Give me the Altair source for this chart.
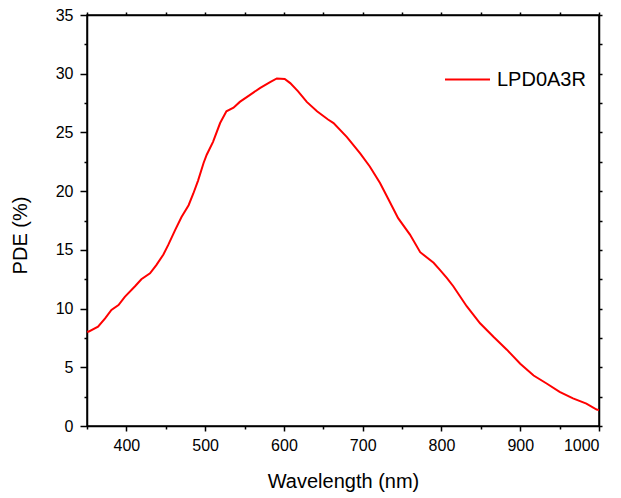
import altair as alt
import pandas as pd

wavelength = [350, 352, 364, 373, 381, 390, 398, 411, 419, 430, 438, 447, 453, 462, 470,
              479, 485, 491, 498, 502, 510, 519, 527, 536, 544, 557, 570, 583, 591, 601,
              608, 618, 629, 642, 656, 663, 680, 697, 709, 722, 732, 745, 760, 773, 790,
              798, 807, 815, 832, 849, 866, 883, 900, 917, 934, 950, 967, 984, 997, 1000]
pde = [8.05, 8.03, 8.46, 9.17, 9.88, 10.3, 11.0, 11.9, 12.5, 13.0, 13.7, 14.6, 15.4, 16.7, 17.8,
       18.8, 19.8, 20.9, 22.4, 23.1, 24.2, 25.8, 26.8, 27.1, 27.6, 28.2, 28.8, 29.3, 29.6, 29.55,
       29.2, 28.5, 27.6, 26.8, 26.1, 25.8, 24.6, 23.2, 22.1, 20.7, 19.4, 17.7, 16.3, 14.8, 13.9,
       13.3, 12.6, 11.9, 10.2, 8.75, 7.6, 6.5, 5.3, 4.3, 3.6, 2.9, 2.35, 1.9, 1.4, 1.35]
series = "LPD0A3R"
x_ticks = [350, 400, 450, 500, 550, 600, 650, 700, 750, 800, 850, 900, 950, 1000]
y_ticks = [0, 2.5, 5, 7.5, 10, 12.5, 15, 17.5, 20, 22.5, 25, 27.5, 30, 32.5, 35]

df = pd.DataFrame({"wl": wavelength, "pde": pde, "series": [series] * len(wavelength)})

FONT = "Liberation Sans"
xscale = alt.Scale(domain=[350, 1000], nice=False, zero=False)
yscale = alt.Scale(domain=[0, 35], nice=False)

x_major = {"condition": {"test": "datum.value % 100 === 0", "value": 5}, "value": 3}
y_major = {"condition": {"test": "datum.value % 5 === 0", "value": 7}, "value": 3}

main = alt.Chart(df).mark_line(strokeWidth=2).encode(
    x=alt.X("wl:Q", scale=xscale,
            axis=alt.Axis(values=x_ticks, title="Wavelength (nm)", format="d",
                          labelExpr="datum.value % 100 === 0 && datum.value > 350 ? datum.label : ''",
                          tickSize=x_major, labelPadding=6, labelFontSize=16,
                          titleFontSize=20, titleFontWeight="normal", titleY=61,
                          titleBaseline="alphabetic")),
    y=alt.Y("pde:Q", scale=yscale,
            axis=alt.Axis(values=y_ticks, title="PDE (%)",
                          labelExpr="datum.value % 5 === 0 ? datum.label : ''",
                          tickSize=y_major, labelPadding=7, labelFontSize=16,
                          titleFontSize=20, titleFontWeight="normal",
                          titleX=-61, titleY=220, titleBaseline="alphabetic",
                          titleAlign="center", titleAngle=270)),
    color=alt.Color("series:N", scale=alt.Scale(domain=[series], range=["#ff0000"]),
                    legend=alt.Legend(title=None, orient="none", legendX=357, legendY=41,
                                      symbolType="stroke", symbolSize=2025,
                                      symbolStrokeWidth=2, labelFontSize=20,
                                      labelFont=FONT, labelOffset=6, padding=0)),
)

frame = alt.Chart(df).mark_line(opacity=0).encode(
    x=alt.X("wl:Q", scale=xscale,
            axis=alt.Axis(orient="top", values=x_ticks, labels=False, title=None, tickSize=3)),
    y=alt.Y("pde:Q", scale=yscale,
            axis=alt.Axis(orient="right", values=y_ticks, labels=False, title=None, tickSize=3)),
)

chart = alt.layer(main, frame).resolve_axis(x="independent", y="independent").properties(
    width=512, height=411,
    autosize=alt.AutoSizeParams(type="none"),
    padding={"left": 79, "top": 7, "right": 14, "bottom": 71},
).configure_axis(
    grid=False, domainColor="black", domainWidth=1.5, tickColor="black", tickWidth=1.5,
    labelColor="black", titleColor="black", labelFont=FONT, titleFont=FONT,
).configure_view(stroke="black", strokeWidth=1.5)

chart.save("out.html", embed_options={"renderer": "svg", "actions": False})
